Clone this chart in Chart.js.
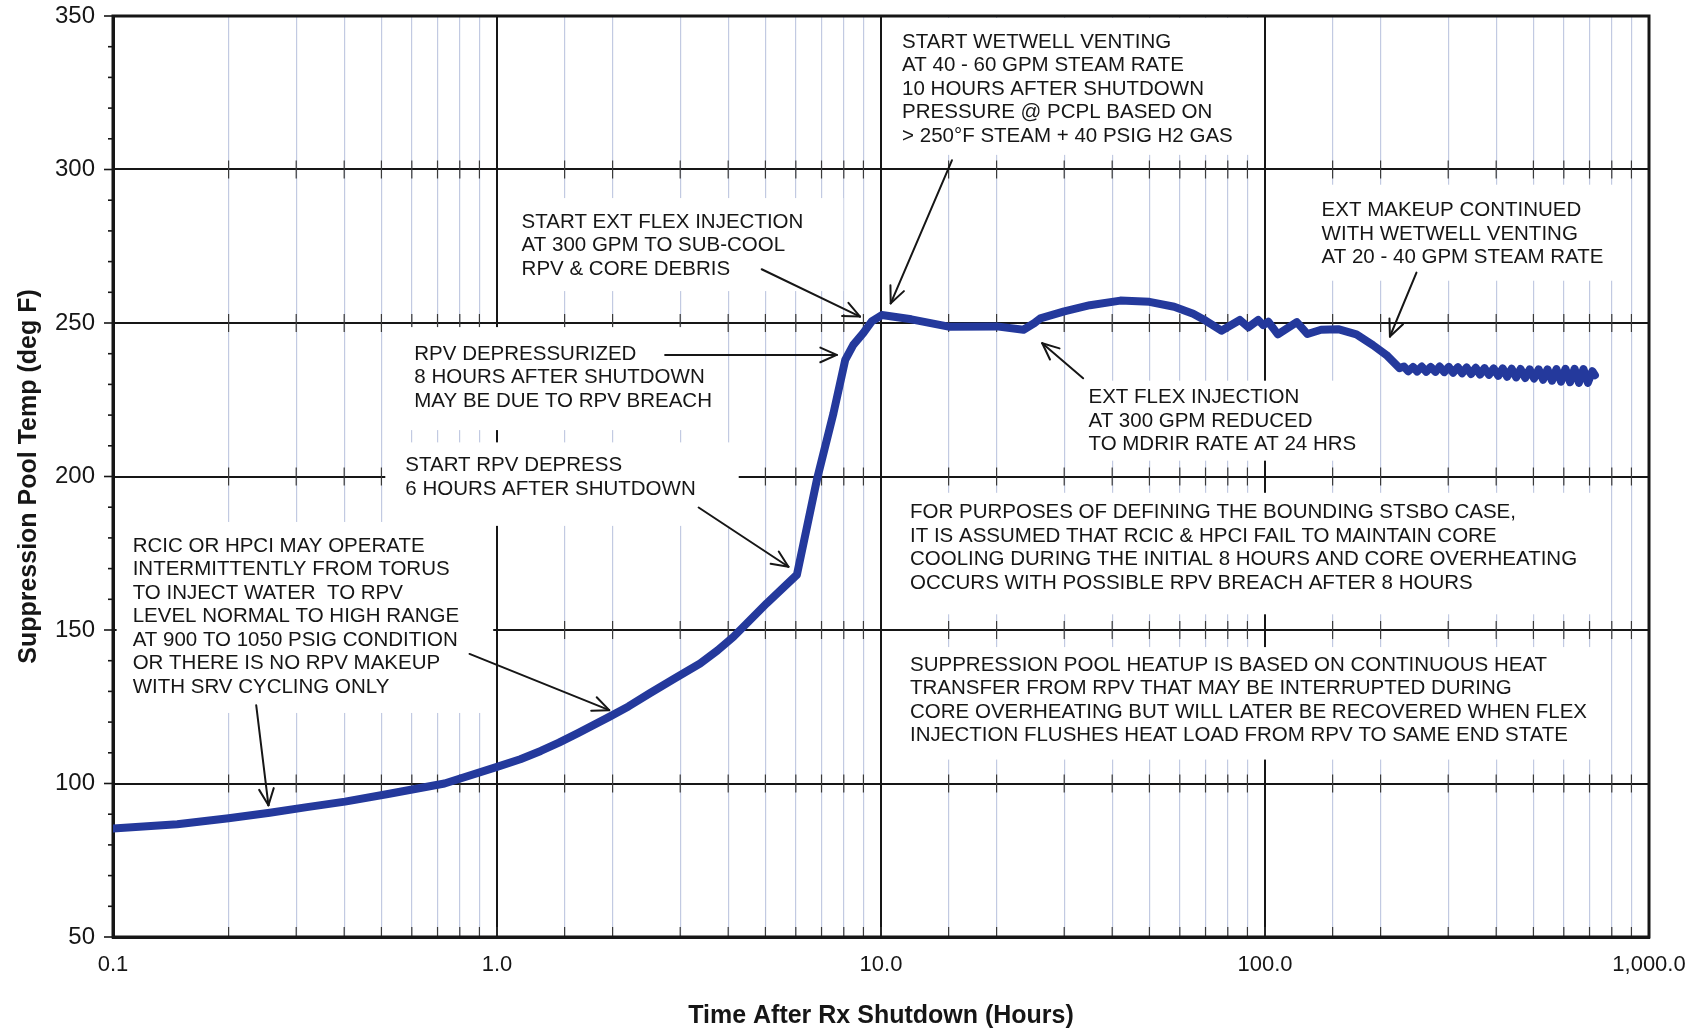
<!DOCTYPE html>
<html>
<head>
<meta charset="utf-8">
<script src="https://cdn.jsdelivr.net/npm/chart.js@4/dist/chart.umd.min.js"></script>
<style>
  html, body { margin: 0; padding: 0; background: #fff; }
  canvas { display: block; }
</style>
</head>
<body>
<canvas id="chart" width="1700" height="1030"></canvas>
<script>
// Suppression pool temperature vs. time after reactor shutdown (log time axis)
const timeHours = [
  0.10, 0.147, 0.2, 0.256, 0.32, 0.402, 0.52, 0.73, 1.0, 1.15, 1.3, 1.45, 1.625, 1.96, 2.2, 2.5, 2.9, 3.38, 3.75, 4.13, 5.04, 6.04,
  6.81, 7.52, 8.07, 8.47, 9.0, 9.46, 10.05, 12.0, 15.0, 20.0, 23.5, 25.1, 26.0, 30.0, 35.0, 42.0, 50.0,
  58.0, 65.0, 70.0, 77.0, 86.0, 90.5, 96.0, 99.0, 102.0, 108.0, 121.0, 129.0, 140.0, 155.0, 173.0,
  191.0, 207.0, 224.0,
  230, 236, 243, 249, 256, 263, 270, 278, 285, 293, 301, 309, 318, 326, 335, 344, 354, 363, 373, 383,
  394, 405, 416, 427, 439, 451, 463, 476, 489, 502, 516, 530, 544, 559, 574, 590, 606, 623, 640, 657,
  675, 693, 712, 723
];
const poolTempF = [
  85.3, 86.7, 88.7, 90.5, 92.3, 94.1, 96.6, 100.0, 105.4, 107.9, 110.6, 113.3, 116.4, 121.7, 125.1, 129.4, 134.2, 139.1, 143.3, 147.8, 158.7, 168.0,
  199.0, 220.6, 238.0, 242.9, 246.8, 250.5, 252.6, 251.2, 248.8, 248.9, 247.8, 250.0, 251.5, 253.8, 255.8, 257.3, 256.9,
  255.3, 253.0, 250.8, 247.5, 251.0, 248.6, 251.0, 249.3, 250.4, 246.3, 250.3, 246.4, 247.8, 248.0, 246.3,
  242.8, 239.6, 235.3,
  235.8, 234.3, 235.7, 234.2, 235.8, 234.1, 235.7, 234.1, 235.8, 234.0, 235.7, 233.8, 235.6, 233.6, 235.5, 233.4, 235.4, 233.2, 235.3, 233.1,
  235.2, 232.8, 235.2, 232.5, 235.1, 232.3, 235.0, 232.1, 234.9, 231.9, 234.9, 231.5, 234.9, 231.2, 235.0, 230.9, 235.1, 230.7, 235.1, 230.5,
  235.0, 230.5, 234.3, 233.0
];

// Axis ticks
const xDecades = [0.1, 1, 10, 100, 1000];
const xTickLabels = ['0.1', '1.0', '10.0', '100.0', '1,000.0'];
const yMin = 50, yMax = 350, yStep = 50, yMinorStep = 10;
const xTitle = 'Time After Rx Shutdown (Hours)';
const yTitle = 'Suppression Pool Temp (deg F)';

// Annotation texts
const wetwellNote = ['START WETWELL VENTING', 'AT 40 - 60 GPM STEAM RATE', '10 HOURS AFTER SHUTDOWN',
  'PRESSURE @ PCPL BASED ON', '> 250°F STEAM + 40 PSIG H2 GAS'];
const flexStartNote = ['START EXT FLEX INJECTION', 'AT 300 GPM TO SUB-COOL', 'RPV & CORE DEBRIS'];
const depressurizedNote = ['RPV DEPRESSURIZED', '8 HOURS AFTER SHUTDOWN', 'MAY BE DUE TO RPV BREACH'];
const depressStartNote = ['START RPV DEPRESS', '6 HOURS AFTER SHUTDOWN'];
const rcicNote = ['RCIC OR HPCI MAY OPERATE', 'INTERMITTENTLY FROM TORUS', 'TO INJECT WATER  TO RPV',
  'LEVEL NORMAL TO HIGH RANGE', 'AT 900 TO 1050 PSIG CONDITION', 'OR THERE IS NO RPV MAKEUP', 'WITH SRV CYCLING ONLY'];
const flexReducedNote = ['EXT FLEX INJECTION', 'AT 300 GPM REDUCED', 'TO MDRIR RATE AT 24 HRS'];
const makeupNote = ['EXT MAKEUP CONTINUED', 'WITH WETWELL VENTING', 'AT 20 - 40 GPM STEAM RATE'];
const boundingNote = ['FOR PURPOSES OF DEFINING THE BOUNDING STSBO CASE,',
  'IT IS ASSUMED THAT RCIC & HPCI FAIL TO MAINTAIN CORE',
  'COOLING DURING THE INITIAL 8 HOURS AND CORE OVERHEATING',
  'OCCURS WITH POSSIBLE RPV BREACH AFTER 8 HOURS'];
const heatupNote = ['SUPPRESSION POOL HEATUP IS BASED ON CONTINUOUS HEAT',
  'TRANSFER FROM RPV THAT MAY BE INTERRUPTED DURING',
  'CORE OVERHEATING BUT WILL LATER BE RECOVERED WHEN FLEX',
  'INJECTION FLUSHES HEAT LOAD FROM RPV TO SAME END STATE'];

// Note placement: text anchor (hours, deg F) at the left of the first line,
// plus the white backing box padding [left, top, right, bottom] in px.
const notes = [
  { lines: wetwellNote,       at: [11.35, 341.9], pad: [16, 14, 28, 8] },
  { lines: flexStartNote,     at: [1.159, 283.2], pad: [16, 11, 40, 11] },
  { lines: depressurizedNote, at: [0.609, 240.2], pad: [8, 14, 10, 18] },
  { lines: depressStartNote,  at: [0.577, 203.95], pad: [20, 10, 43, 26] },
  { lines: rcicNote,          at: [0.1125, 177.7], pad: [16, 11, 34, 15] },
  { lines: flexReducedNote,   at: [34.7, 226.0], pad: [13, 4, 12, 5] },
  { lines: makeupNote,        at: [140.4, 286.9], pad: [17, 13, 10, 12] },
  { lines: boundingNote,      at: [11.9, 188.5], pad: [15, 7, 22, 20] },
  { lines: heatupNote,        at: [11.9, 138.9], pad: [15, 5, 10, 13] }
];

// Arrows: [from hours, from degF, to hours, to degF]
const arrows = [
  [15.3, 303.0, 10.6, 256.4],
  [4.89, 267.5, 8.82, 252.1],
  [2.74, 239.6, 7.67, 239.6],
  [3.35, 189.9, 5.74, 170.6],
  [0.236, 125.5, 0.254, 92.9],
  [0.848, 142.2, 1.96, 123.9],
  [33.6, 232.0, 26.3, 243.4],
  [248, 266.4, 211.5, 245.6]
];

const FONT = '"Liberation Sans", Arial, Helvetica, sans-serif';
const NOTE_FONT = '20.5px ' + FONT;
const LINE_PITCH = 23.5;
const CURVE_COLOR = '#24399c';
const MINOR_GRID = '#c2cae2';
const INK = '#161616';

function isDecade(v) {
  const l = Math.log10(v);
  return Math.abs(l - Math.round(l)) < 1e-6;
}

function noteBox(chart, n) {
  const { ctx, scales: { x, y } } = chart;
  const x0 = x.getPixelForValue(n.at[0]);
  const y0 = y.getPixelForValue(n.at[1]);
  ctx.font = NOTE_FONT;
  const w = Math.max(...n.lines.map(s => ctx.measureText(s).width));
  return {
    x0, y0,
    left: x0 - n.pad[0],
    top: y0 - 12 - n.pad[1],
    right: x0 + w + n.pad[2],
    bottom: y0 + (n.lines.length - 1) * LINE_PITCH + 12 + n.pad[3]
  };
}

function seg(ctx, x1, y1, x2, y2) {
  ctx.beginPath();
  ctx.moveTo(x1, y1);
  ctx.lineTo(x2, y2);
  ctx.stroke();
}

const annotate = {
  id: 'annotate',
  beforeDatasetsDraw(chart) {
    const { ctx, chartArea: a, scales: { x, y } } = chart;
    ctx.save();

    // short dark marks crossing the major horizontal lines at the minor time ticks
    const minorVals = x.ticks.map(t => t.value).filter(v => !isDecade(v));
    ctx.strokeStyle = '#3a3a3a';
    ctx.lineWidth = 1.2;
    for (let T = yMin + yStep; T < yMax; T += yStep) {
      const py = y.getPixelForValue(T);
      for (const v of minorVals) {
        const px = x.getPixelForValue(v);
        seg(ctx, px, py - 9, px, py + 9);
      }
    }
    // inward tick marks on the time axis
    for (const t of x.ticks) {
      const px = x.getPixelForValue(t.value);
      seg(ctx, px, a.bottom, px, a.bottom - 10);
    }
    // outward tick marks on the temperature axis
    ctx.strokeStyle = INK;
    ctx.lineWidth = 1.6;
    for (let T = yMin; T <= yMax; T += yMinorStep) {
      const py = y.getPixelForValue(T);
      const len = (T - yMin) % yStep === 0 ? 9 : 5;
      seg(ctx, a.left - len, py, a.left, py);
    }

    // white backing boxes behind the notes
    ctx.fillStyle = '#ffffff';
    for (const n of notes) {
      const b = noteBox(chart, n);
      const l = Math.max(b.left, a.left + 2), r = Math.min(b.right, a.right - 2);
      const t = Math.max(b.top, a.top + 2), btm = Math.min(b.bottom, a.bottom - 2);
      ctx.fillRect(l, t, r - l, btm - t);
    }

    // plot frame
    ctx.strokeStyle = INK;
    ctx.lineWidth = 3;
    ctx.strokeRect(a.left, a.top, a.right - a.left, a.bottom - a.top);
    ctx.restore();
  },
  afterDatasetsDraw(chart) {
    const { ctx, scales: { x, y } } = chart;
    ctx.save();
    ctx.fillStyle = INK;
    ctx.font = NOTE_FONT;
    ctx.textBaseline = 'middle';
    ctx.textAlign = 'left';
    for (const n of notes) {
      const b = noteBox(chart, n);
      n.lines.forEach((s, i) => ctx.fillText(s, b.x0, b.y0 + 1 + i * LINE_PITCH));
    }

    ctx.strokeStyle = INK;
    ctx.lineWidth = 2;
    ctx.lineCap = 'round';
    for (const [t1, T1, t2, T2] of arrows) {
      const x1 = x.getPixelForValue(t1), y1 = y.getPixelForValue(T1);
      const x2 = x.getPixelForValue(t2), y2 = y.getPixelForValue(T2);
      seg(ctx, x1, y1, x2, y2);
      const ang = Math.atan2(y2 - y1, x2 - x1);
      const L = 18, spread = 0.42;
      seg(ctx, x2, y2, x2 - L * Math.cos(ang - spread), y2 - L * Math.sin(ang - spread));
      seg(ctx, x2, y2, x2 - L * Math.cos(ang + spread), y2 - L * Math.sin(ang + spread));
    }
    ctx.restore();
  }
};

new Chart(document.getElementById('chart'), {
  type: 'line',
  data: {
    datasets: [{
      data: timeHours.map((t, i) => ({ x: t, y: poolTempF[i] })),
      borderColor: CURVE_COLOR,
      borderWidth: 8,
      pointRadius: 0,
      tension: 0,
      borderJoinStyle: 'round',
      borderCapStyle: 'round',
      fill: false
    }]
  },
  options: {
    responsive: false,
    maintainAspectRatio: false,
    animation: false,
    devicePixelRatio: 1,
    layout: { padding: { left: 0, top: 16, right: 51, bottom: 0 } },
    plugins: { legend: { display: false }, tooltip: { enabled: false } },
    scales: {
      x: {
        type: 'logarithmic',
        min: 0.1,
        max: 1000,
        afterFit: s => { s.height = 93; s.paddingLeft = 0; s.paddingRight = 0; },
        border: { display: true, color: INK, width: 3 },
        grid: {
          drawTicks: false,
          color: c => (c.tick && isDecade(c.tick.value)) ? INK : MINOR_GRID,
          lineWidth: c => (c.tick && isDecade(c.tick.value)) ? 2 : 1.2
        },
        ticks: {
          autoSkip: false,
          maxRotation: 0,
          minRotation: 0,
          padding: 15,
          color: INK,
          font: { family: FONT, size: 22 },
          callback: v => {
            const i = xDecades.findIndex(d => Math.abs(v / d - 1) < 1e-6);
            return i >= 0 ? xTickLabels[i] : '';
          }
        },
        title: {
          display: true,
          text: xTitle,
          color: INK,
          font: { family: FONT, size: 25, weight: 'bold', lineHeight: 1.0 },
          padding: { top: 0, bottom: 1.5 }
        }
      },
      y: {
        min: yMin,
        max: yMax,
        afterFit: s => { s.width = 113; s.paddingTop = 0; s.paddingBottom = 0; },
        border: { display: true, color: INK, width: 3 },
        grid: { drawTicks: false, color: INK, lineWidth: 2 },
        ticks: {
          stepSize: yStep,
          padding: 18,
          color: INK,
          font: { family: FONT, size: 24 }
        },
        title: {
          display: true,
          text: yTitle,
          color: INK,
          font: { family: FONT, size: 25, weight: 'bold', lineHeight: 1.0 },
          padding: { top: 16.5, bottom: 0 }
        }
      }
    }
  },
  plugins: [annotate]
});
</script>
</body>
</html>
